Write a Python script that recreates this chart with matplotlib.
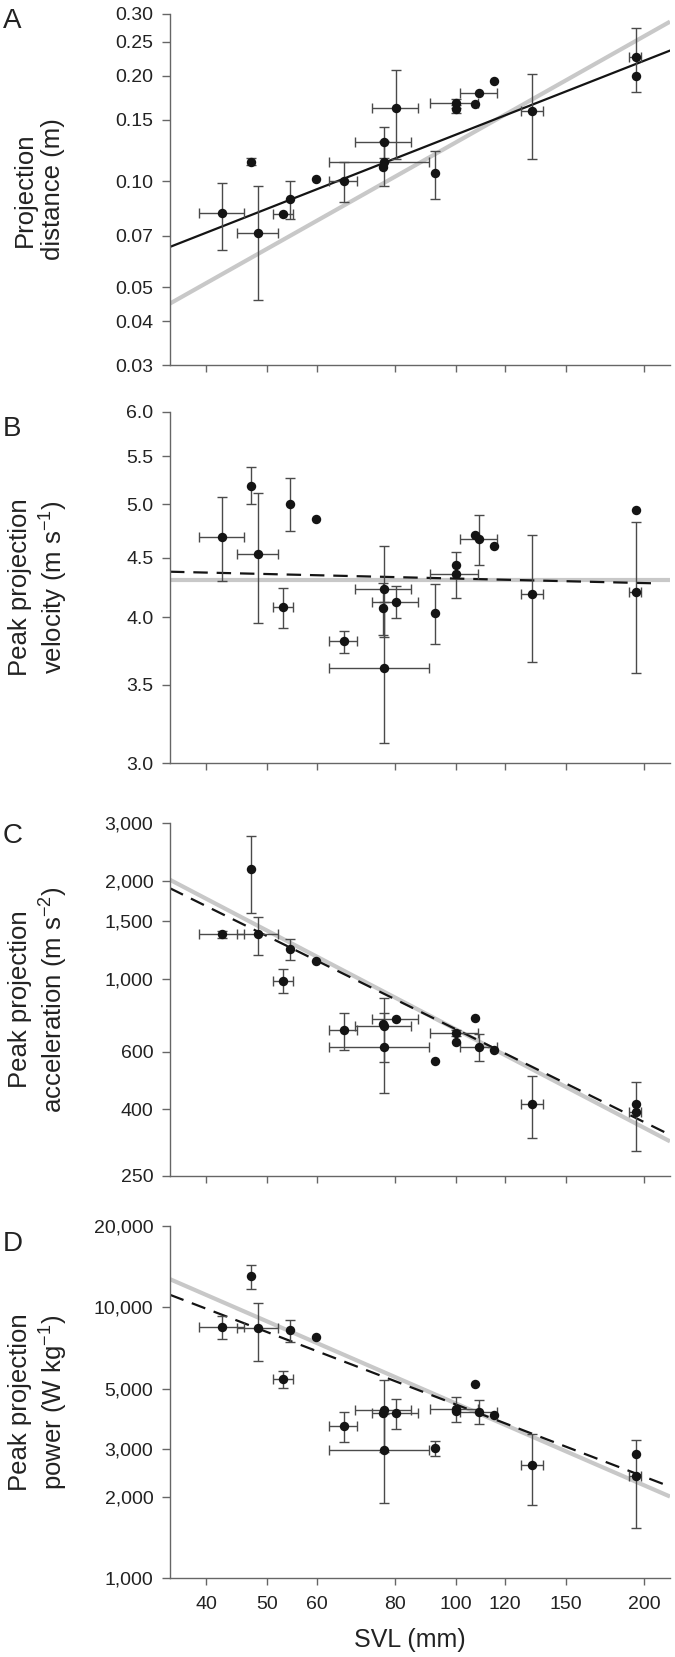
import matplotlib
matplotlib.use('Agg')
import matplotlib.pyplot as plt
import numpy as np
from matplotlib.ticker import NullLocator, FixedLocator, FixedFormatter, NullFormatter

plt.rcParams['font.family'] = ['Liberation Sans', 'DejaVu Sans']
plt.rcParams['mathtext.default'] = 'regular'

# ---------------- data ----------------
svl = np.array([42.4, 47.1, 48.4, 53.1, 54.4, 59.8, 66.3, 76.8, 77.0, 76.6,
                80.3, 92.7, 100.0, 100.0, 107.6, 109.1, 115.1, 132.5, 193.8, 193.8])
svl_err = np.array([3.5, 0, 3.7, 1.9, 0, 0, 3.4, 14.0, 7.9, 0,
                    6.8, 0, 8.8, 0, 0, 7.5, 0, 5.5, 4.3, 0])

dist = np.array([0.0813, 0.1138, 0.0714, 0.0808, 0.0893, 0.1018, 0.1005, 0.1136, 0.1296, 0.110,
                 0.162, 0.1057, 0.1673, 0.1609, 0.1663, 0.1786, 0.1932, 0.159, 0.2265, 0.200])
dist_err = np.array([0.0175, 0.0025, 0.0254, 0, 0.011, 0, 0.0131, 0.0166, 0.0133, 0,
                     0.0458, 0.0168, 0.005, 0.004, 0, 0, 0, 0.0433, 0.047, 0])

vel = np.array([4.684, 5.189, 4.532, 4.080, 5.008, 4.853, 3.814, 3.620, 4.227, 4.074,
                4.126, 4.034, 4.355, 4.433, 4.706, 4.666, 4.602, 4.185, 4.208, 4.943])
vel_err = np.array([0.39, 0.19, 0.58, 0.16, 0.26, 0, 0.083, 0.50, 0.377, 0.21,
                    0.133, 0.239, 0.197, 0, 0, 0.23, 0, 0.525, 0.625, 0])

acc = np.array([1369, 2170, 1369, 989, 1232, 1137, 698, 618, 718, 730,
                753, 561, 683, 640, 762, 619, 608, 416, 391, 415])
acc_err = np.array([32, 577, 182, 82, 90, 0, 92, 168, 160, 0,
                    0, 0, 15, 0, 0, 58, 0, 89, 92, 0])

power = np.array([8460, 13013, 8370, 5428, 8251, 7796, 3648, 2972, 4161, 4057,
                  4080, 3023, 4230, 4126, 5218, 4115, 3990, 2625, 2385, 2880])
power_err = np.array([811, 1318, 2025, 397, 770, 0, 473, 1071, 1251, 0,
                      517, 188, 447, 0, 0, 417, 0, 768, 849, 0])

# fitted lines: endpoints (x, y)
line_x = [35, 220]
dist_black = [0.0651, 0.236]
dist_gray = [0.0449, 0.2853]
vel_gray = [4.306, 4.306]
vel_dash_x = [35, 207]
vel_dash = [4.377, 4.278]
acc_gray = [2011, 319]
acc_dash = [1895, 334]
power_gray = [12720, 2000]
power_dash = [11135, 2177]

xticks = [40, 50, 60, 80, 100, 120, 150, 200]
xticklabels = ['40', '50', '60', '80', '100', '120', '150', '200']

dist_ticks = [0.03, 0.04, 0.05, 0.07, 0.10, 0.15, 0.20, 0.25, 0.30]
dist_ticklabels = ['0.03', '0.04', '0.05', '0.07', '0.10', '0.15', '0.20', '0.25', '0.30']
vel_ticks = [3.0, 3.5, 4.0, 4.5, 5.0, 5.5, 6.0]
vel_ticklabels = ['3.0', '3.5', '4.0', '4.5', '5.0', '5.5', '6.0']
acc_ticks = [250, 400, 600, 1000, 1500, 2000, 3000]
acc_ticklabels = ['250', '400', '600', '1,000', '1,500', '2,000', '3,000']
power_ticks = [1000, 2000, 3000, 5000, 10000, 20000]
power_ticklabels = ['1,000', '2,000', '3,000', '5,000', '10,000', '20,000']

# ---------------- layout ----------------
W, H = 675, 1657
fig = plt.figure(figsize=(W / 100, H / 100), dpi=100)

def fy(px):
    return 1 - px / H

AX_L, AX_R = 170, 670
GRAY = '#c8c8c8'
DARK = '#141414'
ECOL = '#4a4a4a'
SPINE = '#666666'

panels = [
    dict(letter='A', top=14, bottom=365, base=28, vals=dist, err=dist_err, ylim=(0.03, 0.30),
         ticks=dist_ticks, tlabels=dist_ticklabels, label='Projection\ndistance (m)',
         gray=(line_x, dist_gray), solid=(line_x, dist_black), dash=None),
    dict(letter='B', top=412, bottom=763, base=436, vals=vel, err=vel_err, ylim=(3.0, 6.0),
         ticks=vel_ticks, tlabels=vel_ticklabels, label='Peak projection\nvelocity (m s$^{-1}$)',
         gray=(line_x, vel_gray), solid=None, dash=(vel_dash_x, vel_dash)),
    dict(letter='C', top=823, bottom=1176, base=843, vals=acc, err=acc_err, ylim=(250, 3000),
         ticks=acc_ticks, tlabels=acc_ticklabels, label='Peak projection\nacceleration (m s$^{-2}$)',
         gray=(line_x, acc_gray), solid=None, dash=(line_x, acc_dash)),
    dict(letter='D', top=1226, bottom=1578, base=1251, vals=power, err=power_err, ylim=(1000, 20000),
         ticks=power_ticks, tlabels=power_ticklabels, label='Peak projection\npower (W kg$^{-1}$)',
         gray=(line_x, power_gray), solid=None, dash=(line_x, power_dash)),
]

for i, p in enumerate(panels):
    ax = fig.add_axes([AX_L / W, fy(p['bottom']), (AX_R - AX_L) / W, (p['bottom'] - p['top']) / H])
    ax.set_xscale('log')
    ax.set_yscale('log')
    ax.set_xlim(35, 220)
    ax.set_ylim(*p['ylim'])

    gx, gy = p['gray']
    ax.plot(gx, gy, color=GRAY, lw=3.0, solid_capstyle='butt', zorder=1)
    if p['solid'] is not None:
        sx, sy = p['solid']
        ax.plot(sx, sy, color=DARK, lw=1.6, zorder=1.5)
    if p['dash'] is not None:
        dx, dy = p['dash']
        ax.plot(dx, dy, color=DARK, lw=1.6, dashes=(6.5, 4), zorder=1.5)

    vals, err = p['vals'], p['err']
    m = err > 0
    ax.errorbar(svl[m], vals[m], yerr=err[m], fmt='none', ecolor=ECOL,
                elinewidth=1.0, capsize=3.8, capthick=1.0, zorder=2)
    mx = svl_err > 0
    ax.errorbar(svl[mx], vals[mx], xerr=svl_err[mx], fmt='none', ecolor=ECOL,
                elinewidth=1.0, capsize=3.8, capthick=1.0, zorder=2)
    ax.plot(svl, vals, 'o', ms=6.8, color=DARK, mec='none', zorder=3)

    ax.yaxis.set_major_locator(FixedLocator(p['ticks']))
    ax.yaxis.set_major_formatter(FixedFormatter(p['tlabels']))
    ax.yaxis.set_minor_locator(NullLocator())
    ax.xaxis.set_major_locator(FixedLocator(xticks))
    ax.xaxis.set_minor_locator(NullLocator())
    if i == 3:
        ax.xaxis.set_major_formatter(FixedFormatter(xticklabels))
    else:
        ax.xaxis.set_major_formatter(NullFormatter())

    for s in ['top', 'right']:
        ax.spines[s].set_visible(False)
    for s in ['left', 'bottom']:
        ax.spines[s].set_color(SPINE)
        ax.spines[s].set_linewidth(1.0)
    ax.tick_params(axis='y', direction='out', length=6, width=1, color=SPINE,
                   labelsize=14, labelcolor='#222222', pad=6)
    ax.tick_params(axis='x', direction='out', length=5, width=1, color=SPINE,
                   labelsize=14, labelcolor='#222222', pad=8)

    yc = fy((p['top'] + p['bottom']) / 2)
    fig.text(39 / W, yc, p['label'], rotation=90, ha='center', va='center',
             multialignment='center', fontsize=18.5, color='#222222')
    fig.text(3 / W, fy(p['base']), p['letter'], ha='left', va='baseline',
             fontsize=20, color='#222222')

fig.text(410 / W, fy(1640), 'SVL (mm)', ha='center', va='center', fontsize=18, color='#222222')

fig.savefig('out.png', dpi=100)
